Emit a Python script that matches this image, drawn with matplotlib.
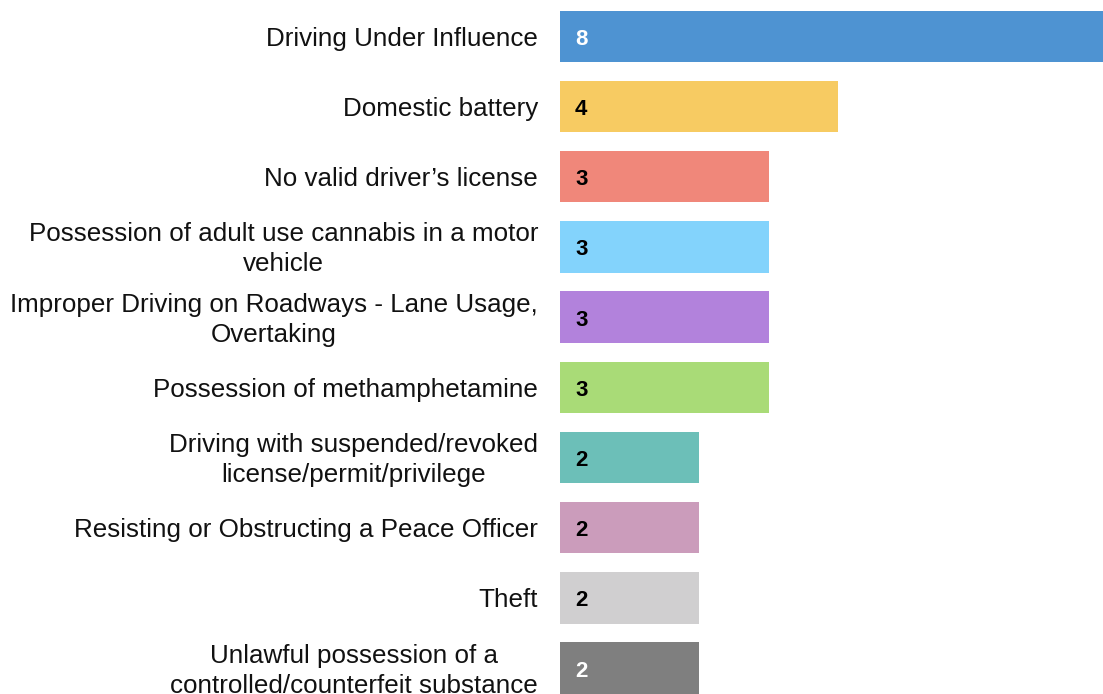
import matplotlib
matplotlib.use("Agg")
import matplotlib.pyplot as plt

categories = [
    "Driving Under Influence",
    "Domestic battery",
    "No valid driver\u2019s license",
    "Possession of adult use cannabis in a motor\nvehicle",
    "Improper Driving on Roadways - Lane Usage,\nOvertaking",
    "Possession of methamphetamine",
    "Driving with suspended/revoked\nlicense/permit/privilege",
    "Resisting or Obstructing a Peace Officer",
    "Theft",
    "Unlawful possession of a\ncontrolled/counterfeit substance",
]
values = [8, 4, 3, 3, 3, 3, 2, 2, 2, 2]
colors = ["#4E93D2", "#F7CB62", "#F0877A", "#83D3FC", "#B282DC",
          "#A9DB77", "#6CBFB8", "#CB9CBB", "#D0CFD0", "#7F7F7F"]
label_colors = ["white", "black", "black", "black", "black",
                "black", "black", "black", "black", "white"]

plt.rcParams['font.family'] = ['Liberation Sans', 'DejaVu Sans']

W, H = 1103, 694
fig = plt.figure(figsize=(W / 100, H / 100), dpi=100)
unit = 69.6
x0 = 560
ax = fig.add_axes([x0 / W, 0, 8 * unit / W, 1])
ax.set_xlim(0, 8)
spacing = 70.2
c0 = 36.3
ax.set_ylim((H - c0) / spacing, -c0 / spacing)

ypos = list(range(len(values)))
ax.barh(ypos, values, height=51.5 / spacing, color=colors, edgecolor="none")
for y, v, lc in zip(ypos, values, label_colors):
    ax.text(15 / unit, y + 0.5 / spacing, str(v), ha="left", va="center_baseline",
            fontsize=16, fontweight="bold", color=lc)
for y, lab in zip(ypos, categories):
    ax.text(-22 / unit, y + 2.5 / spacing, lab, ha="right", va="center", fontsize=18.7,
            color="#111111", multialignment="center", linespacing=1.32)

ax.axis("off")
fig.savefig("out.png", dpi=100)
